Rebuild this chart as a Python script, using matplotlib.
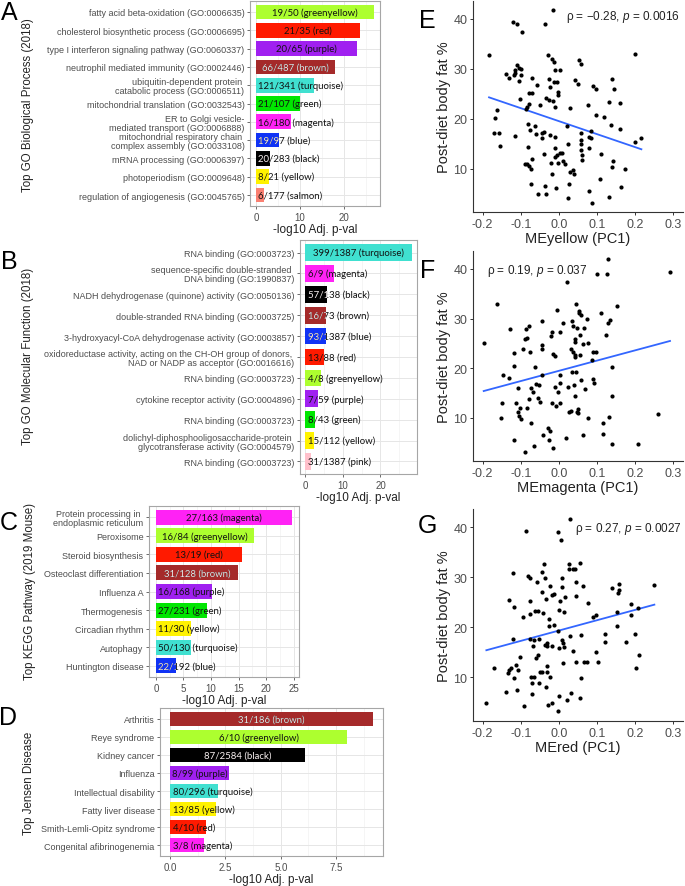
import numpy as np
import matplotlib
matplotlib.use("Agg")
import matplotlib.pyplot as plt

plt.rcParams['font.family'] = ['Liberation Sans', 'DejaVu Sans']
plt.rcParams['axes.unicode_minus'] = False
plt.rcParams['mathtext.fontset'] = 'custom'
plt.rcParams['mathtext.rm'] = 'Liberation Sans'
plt.rcParams['mathtext.it'] = 'Liberation Sans:italic'

# ---- data -------------------------------------------------------------
bp_terms = ["fatty acid beta-oxidation (GO:0006635)",
            "cholesterol biosynthetic process (GO:0006695)",
            "type I interferon signaling pathway (GO:0060337)",
            "neutrophil mediated immunity (GO:0002446)",
            "ubiquitin-dependent protein \ncatabolic process (GO:0006511)",
            "mitochondrial translation (GO:0032543)",
            "ER to Golgi vesicle-\nmediated transport (GO:0006888)",
            "mitochondrial respiratory chain \ncomplex assembly (GO:0033108)",
            "mRNA processing (GO:0006397)",
            "photoperiodism (GO:0009648)",
            "regulation of angiogenesis (GO:0045765)"]
bp_pval = [26.9, 23.7, 23.1, 17.9, 13.3, 10.1, 8.0, 5.2, 3.3, 2.9, 1.9]
bp_counts = ["19/50", "21/35", "20/65", "66/487", "121/341", "21/107",
             "16/180", "19/97", "20/283", "8/21", "6/177"]
bp_modules = ["greenyellow", "red", "purple", "brown", "turquoise", "green",
              "magenta", "blue", "black", "yellow", "salmon"]

mf_terms = ["RNA binding (GO:0003723)",
            "sequence-specific double-stranded \nDNA binding (GO:1990837)",
            "NADH dehydrogenase (quinone) activity (GO:0050136)",
            "double-stranded RNA binding (GO:0003725)",
            "3-hydroxyacyl-CoA dehydrogenase activity (GO:0003857)",
            "oxidoreductase activity, acting on the CH-OH group of donors, \nNAD or NADP as acceptor (GO:0016616)",
            "RNA binding (GO:0003723)",
            "cytokine receptor activity (GO:0004896)",
            "RNA binding (GO:0003723)",
            "dolichyl-diphosphooligosaccharide-protein \nglycotransferase activity (GO:0004579)",
            "RNA binding (GO:0003723)"]
mf_pval = [28.3, 7.5, 5.9, 5.4, 5.5, 4.9, 4.1, 3.3, 2.6, 2.3, 1.4]
mf_counts = ["399/1387", "6/9", "57/138", "16/73", "93/1387", "13/88",
             "4/8", "7/59", "8/43", "15/112", "31/1387"]
mf_modules = ["turquoise", "magenta", "black", "brown", "blue", "red",
              "greenyellow", "purple", "green", "yellow", "pink"]

kegg_terms = ["Protein processing in \nendoplasmic reticulum", "Peroxisome",
              "Steroid biosynthesis", "Osteoclast differentiation", "Influenza A",
              "Thermogenesis", "Circadian rhythm", "Autophagy", "Huntington disease"]
kegg_pval = [24.7, 17.8, 15.7, 14.9, 10.1, 9.3, 6.3, 6.3, 3.6]
kegg_counts = ["27/163", "16/84", "13/19", "31/128", "16/168", "27/231",
               "11/30", "50/130", "22/192"]
kegg_modules = ["magenta", "greenyellow", "red", "brown", "purple", "green",
                "yellow", "turquoise", "blue"]

jensen_terms = ["Arthritis", "Reye syndrome", "Kidney cancer", "Influenza",
                "Intellectual disability", "Fatty liver disease",
                "Smith-Lemli-Opitz syndrome", "Congenital afibrinogenemia"]
jensen_pval = [9.16, 8.0, 6.1, 2.64, 2.15, 2.06, 1.62, 1.55]
jensen_counts = ["31/186", "6/10", "87/2584", "8/99", "80/296", "13/85", "4/10", "3/8"]
jensen_modules = ["brown", "greenyellow", "black", "purple", "turquoise",
                  "yellow", "red", "magenta"]

module_colors = {"greenyellow": "#ADFF2F", "red": "#FF1A00", "purple": "#A020F0",
                 "brown": "#A52A2A", "turquoise": "#40E0D0", "green": "#00E600",
                 "magenta": "#FF22F5", "blue": "#1033F5", "black": "#000000",
                 "yellow": "#FFF200", "salmon": "#FA8072", "pink": "#FFC0CB"}
dark_modules = ["brown", "blue", "black"]

yellow_me = [-0.183, -0.163, -0.167, -0.170, -0.158, -0.154, -0.139, -0.130, -0.115, -0.115,
             -0.117, -0.111, -0.104, -0.098, -0.104, -0.102, -0.116, -0.120, -0.111, -0.096,
             -0.100, -0.089, -0.083, -0.078, -0.085, -0.083, -0.078, -0.078, -0.070, -0.080,
             -0.077, -0.080, -0.071, -0.072, -0.074, -0.070, -0.063, -0.061, -0.058, -0.050,
             -0.043, -0.043, -0.054, -0.033, -0.037, -0.038, -0.038, -0.037, -0.016, -0.028,
             -0.019, -0.013, -0.026, -0.024, -0.013, -0.033, -0.026, -0.015, -0.009, -0.023,
             -0.022, -0.017, -0.009, -0.009, 0.002, -0.004, -0.002, -0.002, -0.010, -0.009,
             -0.004, 0.002, 0.007, -0.007, -0.002, 0.010, 0.017, 0.022, 0.024, 0.028,
             0.026, 0.024, 0.030, 0.037, 0.039, 0.043, 0.050, 0.052, 0.059, 0.057,
             0.057, 0.059, 0.059, 0.061, 0.061, 0.077, 0.078, 0.083, 0.080, 0.078,
             0.087, 0.085, 0.089, 0.096, 0.096, 0.110, 0.108, 0.119, 0.130, 0.137,
             0.139, 0.143, 0.141, 0.139, 0.132, 0.161, 0.161, 0.163, 0.174, 0.200,
             0.200, 0.216]
yellow_fat = [32.7, 21.7, 20.1, 17.1, 17.1, 14.5, 29.0, 28.1, 29.8, 29.2,
              28.7, 30.7, 30.1, 30.0, 27.5, 23.9, 16.5, 39.3, 39.0, 37.3,
              28.8, 11.0, 10.9, 10.5, 22.0, 22.3, 23.0, 25.1, 25.1, 19.0,
              17.8, 14.3, 28.1, 10.0, 7.0, 11.9, 18.5, 17.0, 26.7, 22.8,
              17.1, 16.1, 5.0, 4.9, 6.5, 12.9, 17.3, 39.0, 41.7, 32.8,
              31.9, 31.3, 28.0, 26.3, 27.3, 24.1, 23.7, 23.5, 22.3, 16.8,
              11.2, 8.9, 16.3, 29.7, 29.7, 27.3, 25.3, 24.8, 14.2, 12.3,
              12.7, 13.2, 13.1, 6.1, 11.1, 11.5, 11.0, 18.5, 14.9, 9.3,
              7.0, 4.2, 22.1, 9.7, 8.9, 27.8, 26.9, 31.7, 30.9, 17.1,
              15.8, 15.0, 13.7, 12.8, 11.7, 22.8, 16.3, 17.5, 14.2, 5.5,
              3.2, 16.1, 26.5, 26.0, 20.7, 13.0, 8.0, 20.4, 23.3, 18.8,
              28.0, 26.0, 11.5, 10.3, 4.3, 23.2, 18.0, 6.3, 9.9, 33.0,
              15.3, 16.1]

magenta_me = [-0.197, -0.161, -0.149, -0.152, -0.146, -0.130, -0.127, -0.118, -0.118, -0.118,
              -0.113, -0.106, -0.106, -0.104, -0.100, -0.102, -0.094, -0.089, -0.087, -0.083,
              -0.078, -0.083, -0.089, -0.078, -0.076, -0.074, -0.072, -0.069, -0.066, -0.063,
              -0.059, -0.052, -0.054, -0.050, -0.045, -0.043, -0.043, -0.043, -0.041, -0.028,
              -0.024, -0.025, -0.015, -0.021, -0.019, -0.015, -0.011, -0.011, -0.008, -0.006,
              -0.019, -0.002, 0.003, 0.003, 0.004, 0.010, 0.004, 0.018, 0.022, 0.025,
              0.027, 0.031, 0.031, 0.033, 0.035, 0.038, 0.038, 0.039, 0.042, 0.042,
              0.042, 0.042, 0.042, 0.045, 0.045, 0.048, 0.048, 0.051, 0.051, 0.053,
              0.053, 0.055, 0.055, 0.057, 0.059, 0.062, 0.062, 0.066, 0.068, 0.073,
              0.077, 0.077, 0.086, 0.088, 0.090, 0.092, 0.097, 0.099, 0.110, 0.115,
              0.116, 0.123, 0.125, 0.129, 0.129, 0.134, 0.132, 0.138, 0.140, 0.138,
              0.151, 0.208, 0.259, 0.291]
magenta_fat = [25.1, 33.0, 13.0, 9.9, 18.6, 18.0, 27.8, 23.1, 20.4, 5.5,
               12.9, 16.0, 11.2, 10.4, 9.7, 11.9, 23.9, 25.9, 27.8, 26.1,
               28.5, 11.9, 3.2, 13.7, 23.3, 8.9, 16.0, 15.1, 4.4, 20.2,
               16.9, 16.7, 14.0, 13.2, 29.6, 24.6, 23.8, 18.7, 6.6, 8.0,
               7.3, 5.5, 4.0, 26.5, 27.3, 22.9, 22.5, 16.2, 12.4, 31.8,
               12.9, 15.1, 17.1, 18.6, 12.9, 29.0, 27.3, 6.0, 37.3, 16.2,
               11.2, 11.3, 23.9, 19.2, 29.4, 28.5, 23.3, 16.6, 25.9, 25.3,
               22.7, 22.3, 14.4, 33.0, 19.2, 28.1, 11.2, 11.7, 10.9, 31.6,
               31.2, 26.6, 22.6, 17.6, 30.8, 24.8, 6.5, 28.1, 15.9, 30.0,
               25.1, 9.9, 21.6, 23.3, 17.8, 17.1, 23.3, 39.0, 31.1, 8.9,
               6.8, 26.6, 39.0, 41.9, 29.0, 29.8, 10.2, 20.2, 14.4, 4.8,
               32.6, 4.8, 10.7, 39.3]

red_me = [-0.190, -0.171, -0.138, -0.134, -0.130, -0.125, -0.131, -0.121, -0.118, -0.121,
          -0.117, -0.112, -0.110, -0.108, -0.103, -0.095, -0.092, -0.086, -0.080, -0.075,
          -0.077, -0.075, -0.075, -0.073, -0.071, -0.071, -0.069, -0.066, -0.064, -0.062,
          -0.060, -0.057, -0.055, -0.054, -0.053, -0.051, -0.050, -0.044, -0.043, -0.043,
          -0.042, -0.038, -0.036, -0.034, -0.037, -0.031, -0.030, -0.031, -0.030, -0.034,
          -0.028, -0.025, -0.025, -0.023, -0.023, -0.019, -0.018, -0.017, -0.012, -0.014,
          -0.003, -0.002, -0.002, 0.001, 0.001, 0.003, 0.001, 0.005, 0.007, 0.007,
          0.007, 0.010, 0.012, 0.014, 0.014, 0.017, 0.021, 0.027, 0.027, 0.030,
          0.031, 0.030, 0.036, 0.038, 0.042, 0.044, 0.044, 0.044, 0.056, 0.056,
          0.057, 0.057, 0.062, 0.066, 0.073, 0.077, 0.088, 0.097, 0.097, 0.103,
          0.120, 0.121, 0.140, 0.153, 0.153, 0.155, 0.157, 0.157, 0.177, 0.188,
          0.188, 0.199, 0.201, 0.207, 0.210, 0.250]
red_fat = [4.8, 11.8, 7.0, 10.8, 11.4, 11.8, 25.5, 30.8, 24.0, 17.6,
           9.8, 12.4, 7.5, 11.4, 14.0, 22.0, 4.2, 39.3, 30.2, 29.8,
           25.2, 22.7, 17.7, 10.1, 8.8, 6.7, 16.3, 17.4, 10.1, 23.3,
           13.9, 29.0, 23.3, 14.4, 8.8, 17.6, 11.0, 11.0, 31.1, 27.0,
           22.9, 32.7, 29.8, 25.7, 16.5, 16.9, 16.3, 12.3, 11.1, 8.1,
           4.4, 21.7, 20.2, 10.1, 28.2, 16.2, 4.8, 26.5, 20.5, 26.6,
           3.2, 39.0, 19.2, 6.2, 15.9, 25.2, 23.5, 37.4, 29.8, 28.0,
           17.4, 16.9, 12.8, 23.1, 16.1, 26.0, 5.5, 32.7, 31.6, 18.3,
           6.8, 41.7, 31.7, 15.2, 31.6, 29.0, 26.3, 13.0, 5.8, 32.9,
           18.4, 9.8, 28.2, 13.0, 13.0, 24.9, 22.0, 22.4, 15.1, 13.0,
           18.6, 17.1, 27.8, 20.2, 23.0, 26.8, 27.4, 28.6, 17.1, 24.7,
           22.5, 18.6, 11.8, 23.8, 14.4, 28.4]

# ---- layout helpers ------------------------------------------------------
W, H = 685, 887
fig = plt.figure(figsize=(W / 100, H / 100), dpi=100)


def add_ax(left, top, right, bottom):
    return fig.add_axes([left / W, 1 - bottom / H, (right - left) / W, (bottom - top) / H])


def fig_text(x, y, s, **kw):
    return fig.text(x / W, 1 - y / H, s, **kw)


renderer = fig.canvas.get_renderer()


def bar_panel(ax, terms, pvals, counts, modules, ticks, minor, term_size=6.5):
    pos = np.arange(len(pvals))
    colors = [module_colors[m] for m in modules]
    bars = ax.barh(pos, pvals, height=0.8, color=colors, zorder=2)
    vmax = max(pvals)
    ax.set_xlim(-0.05 * vmax, 1.05 * vmax)
    ax.set_ylim(len(pvals) - 0.4, -0.6)
    ax.set_yticks(pos)
    ax.set_yticklabels(terms, linespacing=1.0)
    ax.set_xticks(ticks)
    ax.set_xticks(minor, minor=True)
    ax.tick_params(axis='both', which='major', length=2.5, width=0.6, color='#555555',
                   pad=1.5, labelcolor='#4D4D4D')
    ax.tick_params(axis='x', labelsize=7)
    ax.tick_params(axis='y', labelsize=term_size)
    ax.tick_params(axis='x', which='minor', length=0)
    ax.grid(which='major', color='#E6E6E6', lw=0.7, zorder=0)
    ax.grid(which='minor', axis='x', color='#F2F2F2', lw=0.5, zorder=0)
    ax.set_axisbelow(True)
    for sp in ax.spines.values():
        sp.set_color('#A6A6A6')
        sp.set_linewidth(0.8)
    ax.set_xlabel('-log10 Adj. p-val', fontsize=8.5, labelpad=1, color='#222222')

    # annotations: centred when they fit, otherwise anchored at zero
    for bar, cnt, mod, v in zip(bars, counts, modules, pvals):
        label = f"{cnt} ({mod})"
        yc = bar.get_y() + bar.get_height() / 2
        t = ax.text(v / 2, yc, label, ha='center', va='center', fontsize=6.9,
                    family='Lato', color='#111111', zorder=3)
        wpx = t.get_window_extent(renderer).width
        x0 = ax.transData.transform((0, yc))[0]
        x1 = ax.transData.transform((v, yc))[0]
        if wpx > (x1 - x0) - 2:
            t.set_ha('left')
            t.set_x(2.5 * v / (x1 - x0))
        if mod in dark_modules:
            # light copy of the label, visible only over the dark bar
            tw = ax.text(t.get_position()[0], yc, label, ha=t.get_ha(), va='center',
                         fontsize=6.9, family='Lato', color='#F4ECEC', zorder=4,
                         clip_on=True)
            tw.set_clip_path(bar)


def scatter_panel(ax, xs, ys, xlabel):
    xs = np.asarray(xs)
    ys = np.asarray(ys)
    ax.scatter(xs, ys, s=9, color='black', linewidths=0, zorder=3)
    slope, intercept = np.polyfit(xs, ys, 1)
    xl = np.array([xs.min(), xs.max()])
    ax.plot(xl, intercept + slope * xl, color='#3366FF', lw=1.3, zorder=2)
    ax.set_xlim(-0.225, 0.325)
    ax.set_ylim(1.3, 43.6)
    ax.set_xticks([-0.2, -0.1, 0.0, 0.1, 0.2, 0.3])
    ax.set_xticklabels(['-0.2', '-0.1', '0.0', '0.1', '0.2', '0.3'])
    ax.set_yticks([10, 20, 30, 40])
    ax.spines['top'].set_visible(False)
    ax.spines['right'].set_visible(False)
    for sp in ('left', 'bottom'):
        ax.spines[sp].set_color('#333333')
        ax.spines[sp].set_linewidth(0.8)
    ax.tick_params(length=2.5, width=0.7, color='#333333', labelsize=9,
                   labelcolor='#4D4D4D', pad=1.5)
    ax.set_xlabel(xlabel, fontsize=10.5, labelpad=1, color='#222222')
    ax.set_ylabel('Post-diet body fat %', fontsize=10.5, labelpad=2, color='#222222')


# ---- bar panels ------------------------------------------------------------
axA = add_ax(250, 2, 380, 207)
bar_panel(axA, bp_terms, bp_pval, bp_counts, bp_modules, [0, 10, 20], [5, 15, 25],
          term_size=6.5)

axB = add_ax(300, 241, 417, 475)
bar_panel(axB, mf_terms, mf_pval, mf_counts, mf_modules, [0, 10, 20], [5, 15, 25])

axC = add_ax(149, 507, 299, 678)
bar_panel(axC, kegg_terms, kegg_pval, kegg_counts, kegg_modules,
          [0, 5, 10, 15, 20, 25], [2.5, 7.5, 12.5, 17.5, 22.5])

axD = add_ax(160, 709, 383, 857)
bar_panel(axD, jensen_terms, jensen_pval, jensen_counts, jensen_modules,
          [0.0, 2.5, 5.0, 7.5], [1.25, 3.75, 6.25, 8.75])
axD.set_xticklabels(['0.0', '2.5', '5.0', '7.5'])

ytitle = dict(rotation=90, ha='center', va='center', fontsize=8.3, color='#222222')
fig_text(28, 105, 'Top GO Biological Process (2018)', **ytitle)
fig_text(28, 356, 'Top GO Molecular Function (2018)', **ytitle)
fig_text(30, 592, 'Top KEGG Pathway (2019 Mouse)', **ytitle)
fig_text(29, 783, 'Top Jensen Disease', **ytitle)

# ---- scatter panels ----------------------------------------------------------
axE = add_ax(473, 2, 683, 213)
scatter_panel(axE, yellow_me, yellow_fat, 'MEyellow (PC1)')
axE.text(0.985, 0.93, 'ρ = −0.28, $\\it{p}$ = 0.0016', transform=axE.transAxes,
         ha='right', va='center', fontsize=8.5, color='#222222')

axF = add_ax(473, 252, 683, 462)
scatter_panel(axF, magenta_me, magenta_fat, 'MEmagenta (PC1)')
axF.text(0.065, 0.91, 'ρ = 0.19, $\\it{p}$ = 0.037', transform=axF.transAxes,
         ha='left', va='center', fontsize=8.5, color='#222222')

axG = add_ax(473, 510, 683, 722)
scatter_panel(axG, red_me, red_fat, 'MEred (PC1)')
axG.text(0.995, 0.91, 'ρ = 0.27, $\\it{p}$ = 0.0027', transform=axG.transAxes,
         ha='right', va='center', fontsize=8.5, color='#222222')

# ---- panel letters ------------------------------------------------------------
letter = dict(ha='center', va='center', fontsize=18, color='black')
for s, x, y in [('A', 9, 13), ('B', 9, 262), ('C', 9, 523), ('D', 8, 718),
                ('E', 427, 21), ('F', 428, 271), ('G', 427, 526)]:
    fig_text(x, y, s, **letter)

fig.savefig('out.png', dpi=100)
